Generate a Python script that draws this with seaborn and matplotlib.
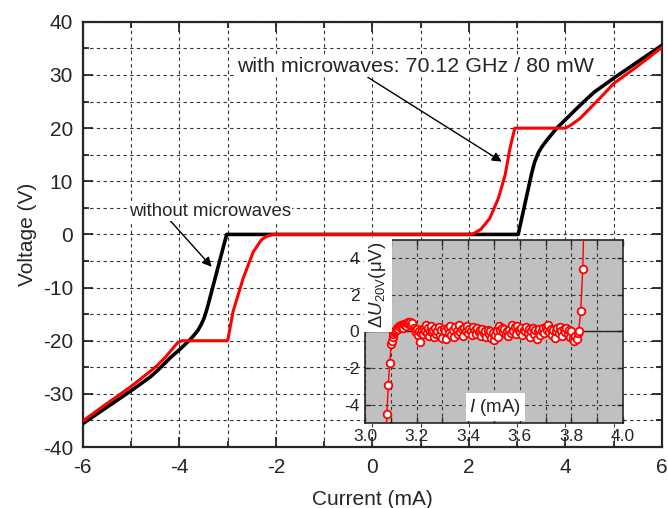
import matplotlib
matplotlib.use("Agg")
import matplotlib.pyplot as plt
from matplotlib.ticker import MultipleLocator
import seaborn as sns
import pandas as pd

# ---------------- data ----------------
# without microwaves (black)
I_black = [-6.0, -5.5, -5.0, -4.6, -4.43, -4.2, -4.0, -3.78, -3.70, -3.62, -3.55, -3.49,
           -3.44, -3.40, -3.02, -2.0, 0.0, 2.0, 3.02, 3.30, 3.36, 3.44, 3.52, 3.62, 3.72,
           3.81, 4.0, 4.2, 4.43, 4.6, 5.0, 5.5, 6.0]
V_black = [-35.6, -32.5, -29.4, -26.8, -25.4, -23.3, -21.7, -19.8, -19.0, -18.1, -17.0, -15.8,
           -14.4, -13.1, 0.0, 0.0, 0.0, 0.0, 0.0, 11.5, 13.6, 15.4, 16.6, 17.8, 18.9,
           19.9, 21.6, 23.4, 25.4, 26.8, 29.4, 32.5, 35.6]

# with microwaves (red)
I_red = [-6.0, -5.5, -5.0, -4.5, -4.3, -4.15, -4.05, -3.95, -3.01, -2.99, -2.89, -2.68,
         -2.47, -2.30, -2.20, -2.06, 0.0, 1.95, 2.09, 2.25, 2.43, 2.61, 2.75, 2.85, 2.95,
         4.0, 4.1, 4.3, 4.71, 5.0, 5.5, 6.0]
V_red = [-35.1, -31.8, -28.6, -25.0, -23.2, -21.6, -20.5, -20.0, -20.0, -19.6, -14.6, -8.3,
         -3.3, -1.0, -0.4, 0.0, 0.0, 0.0, 0.1, 1.0, 3.0, 6.8, 11.2, 16.2, 20.0,
         20.0, 20.5, 21.8, 25.6, 28.4, 31.7, 35.2]

# inset: deviation of the 20 V step
inset_I = [3.080, 3.085, 3.090, 3.096, 3.101, 3.104, 3.107, 3.110, 3.113, 3.116,
           3.120, 3.124, 3.128, 3.132, 3.136, 3.140, 3.144, 3.148, 3.152, 3.156,
           3.160, 3.164, 3.168, 3.172, 3.176, 3.180, 3.184, 3.188, 3.192, 3.196,
           3.200, 3.204, 3.208, 3.212, 3.216, 3.220, 3.224, 3.228, 3.232, 3.236,
           3.240, 3.244, 3.248, 3.252, 3.256, 3.260, 3.264, 3.268, 3.272, 3.276,
           3.280, 3.285, 3.290, 3.295, 3.300, 3.305, 3.310, 3.315, 3.320, 3.325,
           3.330, 3.335, 3.340, 3.345, 3.350, 3.355, 3.360, 3.365, 3.370, 3.375,
           3.380, 3.385, 3.390, 3.395, 3.400, 3.405, 3.410, 3.415, 3.420, 3.425,
           3.430, 3.435, 3.440, 3.445, 3.450, 3.455, 3.460, 3.465, 3.470, 3.475,
           3.480, 3.485, 3.490, 3.495, 3.500, 3.505, 3.510, 3.515, 3.520, 3.525,
           3.530, 3.535, 3.540, 3.545, 3.550, 3.555, 3.560, 3.565, 3.570, 3.575,
           3.580, 3.585, 3.590, 3.595, 3.600, 3.605, 3.610, 3.615, 3.620, 3.625,
           3.630, 3.635, 3.640, 3.645, 3.650, 3.655, 3.660, 3.665, 3.670, 3.675,
           3.680, 3.685, 3.690, 3.695, 3.700, 3.705, 3.710, 3.715, 3.720, 3.725,
           3.730, 3.735, 3.740, 3.745, 3.750, 3.755, 3.760, 3.765, 3.770, 3.775,
           3.780, 3.785, 3.790, 3.795, 3.800, 3.805, 3.810, 3.815, 3.820, 3.825,
           3.828, 3.836, 3.844, 3.852]
inset_dU = [-6.0, -4.5, -2.95, -1.7, -0.7, -0.5, -0.3, -0.15, -0.05, 0.05,
            0.1, 0.2, 0.15, 0.3, 0.25, 0.35, 0.3, 0.2, 0.4, 0.35,
            0.3, 0.45, 0.5, 0.4, 0.5, 0.35, 0.45, 0.2, 0.1, -0.05,
            0.15, -0.2, 0.05, -0.55, -0.1, 0.1, -0.15, 0.2, 0.05, 0.35,
            -0.1, 0.2, -0.25, 0.05, 0.3, -0.05, 0.1, -0.3, 0.2, -0.15,
            0.0, 0.25, -0.2, 0.1, -0.35, 0.15, 0.0, -0.4, 0.2, -0.1,
            0.3, -0.2, 0.1, -0.3, 0.25, 0.05, -0.15, 0.35, -0.05, 0.15,
            -0.25, 0.2, 0.05, 0.3, -0.1, 0.15, 0.0, -0.2, 0.25, 0.1,
            -0.15, 0.2, -0.05, 0.1, -0.25, 0.15, -0.1, 0.05, -0.3, 0.1,
            -0.15, 0.0, -0.35, -0.1, -0.45, -0.2, 0.05, -0.3, 0.3, 0.1,
            0.2, -0.05, 0.15, -0.15, 0.05, -0.25, 0.1, -0.1, 0.35, 0.05,
            0.25, -0.15, 0.3, 0.1, -0.05, 0.2, -0.2, 0.1, 0.0, 0.25,
            -0.1, 0.15, -0.3, 0.05, 0.2, -0.15, 0.1, -0.4, 0.0, 0.15,
            -0.2, 0.05, 0.2, -0.1, 0.25, 0.1, 0.35, -0.05, 0.15, -0.2,
            0.1, -0.35, 0.05, 0.2, -0.1, 0.25, 0.0, -0.25, 0.15, -0.05,
            0.2, -0.15, 0.1, -0.3, 0.05, -0.35, -0.5, -0.25, -0.4, -0.1,
            0.0, 1.1, 3.4, 8.0]

x_ticks = [-6, -4, -2, 0, 2, 4, 6]
y_ticks = [-40, -30, -20, -10, 0, 10, 20, 30, 40]
inset_x_ticks = [3.0, 3.2, 3.4, 3.6, 3.8, 4.0]
inset_y_ticks = [-4, -2, 0, 2, 4]

label_with = "with microwaves: 70.12 GHz / 80 mW"
label_without = "without microwaves"

# ---------------- style ----------------
sns.set_style("ticks")
plt.rcParams["font.family"] = ["Liberation Sans", "DejaVu Sans"]
plt.rcParams["axes.unicode_minus"] = False
plt.rcParams["mathtext.fontset"] = "custom"
plt.rcParams["mathtext.rm"] = "Liberation Sans"
plt.rcParams["mathtext.it"] = "Liberation Sans:italic"

fig = plt.figure(figsize=(6.68, 5.08), dpi=100)
ax = fig.add_axes([0.124, 0.12, 0.867, 0.837])

df_b = pd.DataFrame({"I": I_black, "V": V_black})
df_r = pd.DataFrame({"I": I_red, "V": V_red})
sns.lineplot(data=df_b, x="I", y="V", ax=ax, color="black", lw=2.6,
             sort=False, estimator=None, zorder=3)
sns.lineplot(data=df_r, x="I", y="V", ax=ax, color="#ff0000", lw=2.2,
             sort=False, estimator=None, zorder=4)

ax.set_xlim(-6, 6)
ax.set_ylim(-40, 40)
ax.set_xticks(x_ticks)
ax.set_yticks(y_ticks)
ax.xaxis.set_minor_locator(MultipleLocator(1))
ax.yaxis.set_minor_locator(MultipleLocator(5))
ax.grid(True, which="both", color="#333333", linestyle=(0, (3, 3)), lw=0.8)
ax.tick_params(which="both", direction="in", top=True, right=True, width=1.3,
               labelsize=15)
ax.tick_params(axis="x", which="both", pad=8)
ax.tick_params(axis="y", which="both", pad=7)
ax.tick_params(which="major", length=7)
ax.tick_params(which="minor", length=4)
for s in ax.spines.values():
    s.set_linewidth(1.6)
ax.set_xlabel("Current (mA)", fontsize=15, labelpad=9)
ax.set_ylabel("Voltage (V)", fontsize=15, labelpad=4)

ax.annotate(label_with, xy=(2.68, 13.7), xytext=(-2.8, 31.6), fontsize=15.4,
            va="center", ha="left",
            bbox=dict(facecolor="white", edgecolor="none", pad=1),
            arrowprops=dict(arrowstyle="-|>", color="black", lw=1.0,
                            shrinkA=0, shrinkB=0, mutation_scale=14,
                            relpos=(0.36, 0.0)))
ax.annotate(label_without, xy=(-3.33, -6.1), xytext=(-5.05, 4.4), fontsize=13.4,
            va="center", ha="left",
            bbox=dict(facecolor="white", edgecolor="none", pad=1),
            arrowprops=dict(arrowstyle="-|>", color="black", lw=1.0,
                            shrinkA=0, shrinkB=0, mutation_scale=14,
                            relpos=(0.25, 0.0)))

# ---------------- inset ----------------
axi = fig.add_axes([365 / 668, 1 - 423 / 508, 258 / 668, 183 / 508])
axi.set_facecolor("#c0c0c0")
axi.set_zorder(5)
df_i = pd.DataFrame({"I": inset_I, "dU": inset_dU})
sns.lineplot(data=df_i, x="I", y="dU", ax=axi, color="#ff0000", lw=1.0,
             marker="o", markersize=5.5, markerfacecolor="white",
             markeredgecolor="#ff0000", markeredgewidth=1.3,
             sort=False, estimator=None, zorder=4)
axi.axhline(0, color="#222222", lw=1.0, zorder=2)
axi.set_xlim(3.0, 4.0)
axi.set_ylim(-5, 5)
axi.set_xticks(inset_x_ticks)
axi.set_xticklabels([f"{v:.1f}" for v in inset_x_ticks])
axi.set_yticks(inset_y_ticks)
axi.xaxis.set_minor_locator(MultipleLocator(0.1))
axi.grid(True, which="major", axis="y", color="#333333", linestyle=(0, (3, 3)), lw=0.8)
axi.grid(True, which="both", axis="x", color="#333333", linestyle=(0, (3, 3)), lw=0.8)
axi.tick_params(which="both", direction="in", top=True, right=True, labelsize=12.5,
                width=1.0, length=4, pad=4)
for s in axi.spines.values():
    s.set_linewidth(1.2)
axi.set_xlabel("")
axi.set_ylabel("")
axi.text(0.05, 0.755, r"$\Delta U_{\rm 20V}$(μV)", transform=axi.transAxes,
         rotation=90, ha="center", va="center", fontsize=13.5,
         bbox=dict(facecolor="white", edgecolor="none", pad=2.5), zorder=6)
axi.text(0.505, 0.087, r"$I$ (mA)", transform=axi.transAxes,
         ha="center", va="center", fontsize=13.5,
         bbox=dict(facecolor="white", edgecolor="none", pad=2.5), zorder=6)

fig.savefig("out.png", dpi=100)
